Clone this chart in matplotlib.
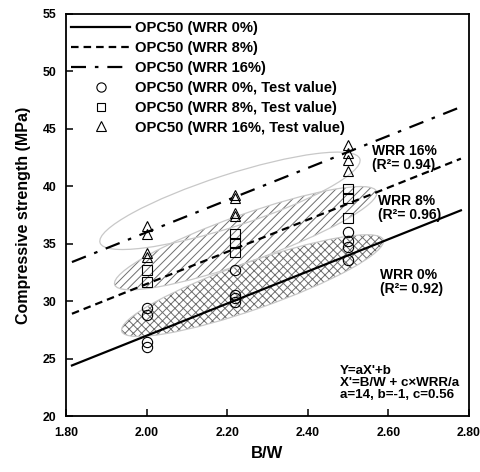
import matplotlib
matplotlib.use("Agg")
import matplotlib.pyplot as plt
from matplotlib.patches import Ellipse
from matplotlib.transforms import ScaledTranslation

plt.rcParams['font.family'] = ['Liberation Sans', 'DejaVu Sans']
plt.rcParams['font.weight'] = 'bold'
plt.rcParams['hatch.linewidth'] = 0.7

# fitted lines (model Y = aX' + b), read at the line ends
line_x = [1.815, 2.78]
fit_wrr0 = [24.4, 37.9]
fit_wrr8 = [28.9, 42.4]
fit_wrr16 = [33.4, 46.9]

# test values at each B/W
bw = [2.00, 2.22, 2.50]
test_wrr0 = [[29.4, 28.8, 26.4, 26.0],
             [32.7, 30.55, 30.25, 29.95],
             [36.0, 35.25, 34.7, 33.6]]
test_wrr8 = [[32.7, 31.7],
             [35.85, 35.1, 34.3],
             [39.75, 39.0, 37.25]]
test_wrr16 = [[36.5, 35.85, 34.2, 33.85],
              [39.25, 38.95, 37.65, 37.4],
              [43.6, 42.9, 42.3, 41.3]]

labels = ['OPC50 (WRR 0%)', 'OPC50 (WRR 8%)', 'OPC50 (WRR 16%)',
          'OPC50 (WRR 0%, Test value)', 'OPC50 (WRR 8%, Test value)',
          'OPC50 (WRR 16%, Test value)']

xticks = [1.80, 2.00, 2.20, 2.40, 2.60, 2.80]
yticks = [20, 25, 30, 35, 40, 45, 50, 55]

fig = plt.figure(figsize=(4.81, 4.72), dpi=100)
ax = fig.add_axes([0.137, 0.1186, 0.838, 0.852])
ax.set_xlim(1.8, 2.8)
ax.set_ylim(20, 55)


def flat(groups):
    xs, ys = [], []
    for x, vals in zip(bw, groups):
        for v in vals:
            xs.append(x)
            ys.append(v)
    return xs, ys


# shaded ellipses: center (data), width/height (inches), angle (deg), hatch
def blob(cx, cy, w, h, ang, hatch=None):
    tr = fig.dpi_scale_trans + ScaledTranslation(cx, cy, ax.transData)
    if hatch:
        ax.add_patch(Ellipse((0, 0), w, h, angle=ang, transform=tr,
                             facecolor='none', edgecolor='#6e6e6e', lw=0,
                             hatch=hatch, zorder=1))
    ax.add_patch(Ellipse((0, 0), w, h, angle=ang, transform=tr,
                         fill=False, edgecolor='#c8c8c8', lw=0.9, zorder=1))


blob(2.263, 31.35, 2.77, 0.47, 19.3, 'xxxx')
blob(2.246, 35.48, 2.78, 0.47, 19.6, '////')
blob(2.207, 38.73, 2.73, 0.52, 17.9)

lw = 1.6
ax.plot(line_x, fit_wrr0, color='black', lw=lw, ls='-', label=labels[0], zorder=3)
ax.plot(line_x, fit_wrr8, color='black', lw=lw, ls=(0, (3.4, 2.25)), label=labels[1], zorder=3)
ax.plot(line_x, fit_wrr16, color='black', lw=lw, ls=(0, (6.75, 4, 1.6, 4)), label=labels[2], zorder=3)

mk = dict(ls='none', mfc='none', mec='black', mew=0.8, zorder=4)
x0, y0 = flat(test_wrr0)
ax.plot(x0, y0, marker='o', ms=7.4, label=labels[3], **mk)
x8, y8 = flat(test_wrr8)
ax.plot(x8, y8, marker='s', ms=6.8, label=labels[4], **mk)
x16, y16 = flat(test_wrr16)
ax.plot(x16, y16, marker='^', ms=7.8, label=labels[5], **mk)

ax.legend(loc='upper left', bbox_to_anchor=(0.012, 0.982), frameon=False,
          fontsize=10.6, handlelength=4.05, handletextpad=0.33, labelspacing=0.4,
          borderpad=0, borderaxespad=0, markerscale=0.9)

ax.text(2.559, 42.44, 'WRR 16%\n(R²= 0.94)', fontsize=10, ha='left', va='center', linespacing=1.0)
ax.text(2.575, 38.12, 'WRR 8%\n(R²= 0.96)', fontsize=10, ha='left', va='center', linespacing=1.0)
ax.text(2.579, 31.63, 'WRR 0%\n(R²= 0.92)', fontsize=10, ha='left', va='center', linespacing=1.0)
ax.text(2.48, 22.86, "Y=aX'+b\nX'=B/W + c×WRR/a\na=14, b=-1, c=0.56",
        fontsize=9.6, ha='left', va='center', linespacing=0.98)

ax.set_xticks(xticks)
ax.set_xticklabels([f'{t:.2f}' for t in xticks])
ax.set_yticks(yticks)
ax.tick_params(direction='in', length=5, width=1.1, labelsize=8.8)
ax.tick_params(axis='x', pad=8)
ax.tick_params(axis='y', pad=7)
for s in ax.spines.values():
    s.set_linewidth(1.3)

ax.set_xlabel('B/W', fontsize=12, fontweight='bold', labelpad=5)
ax.set_ylabel('Compressive strength (MPa)', fontsize=11.5, fontweight='bold', labelpad=8)

fig.savefig('out.png', dpi=100)
